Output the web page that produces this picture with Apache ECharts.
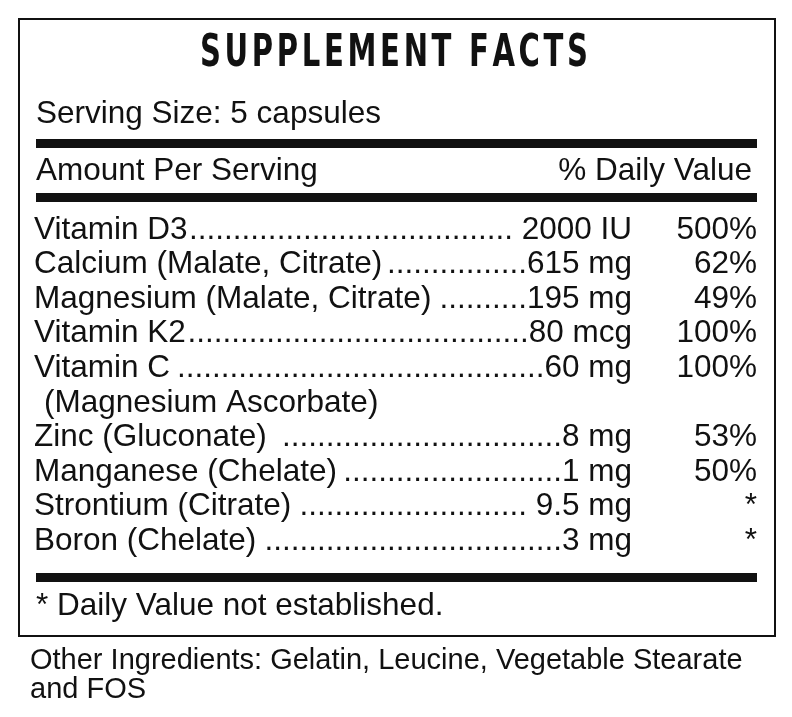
<!DOCTYPE html>
<html><head><meta charset="utf-8">
<script src="https://cdn.jsdelivr.net/npm/echarts@6/dist/echarts.min.js"></script>
<style>html,body{margin:0;background:#fff}#c{width:792px;height:717px}</style>
</head><body><div id="c"></div>
<script>
const title = 'SUPPLEMENT FACTS';
const servingSize = 'Serving Size: 5 capsules';
const names = ['Vitamin D3', 'Calcium (Malate, Citrate)', 'Magnesium (Malate, Citrate)', 'Vitamin K2',
  'Vitamin C', 'Zinc (Gluconate) ', 'Manganese (Chelate)', 'Strontium (Citrate)', 'Boron (Chelate)'];
const subNotes = ['', '', '', '', '(Magnesium Ascorbate)', '', '', '', ''];
const amounts = [' 2000 IU', '615 mg', '195 mg', '80 mcg', '60 mg', '8 mg', '1 mg', ' 9.5 mg', '3 mg'];
const dailyValues = ['500%', '62%', '49%', '100%', '100%', '53%', '50%', '*', '*'];
const footnote = '* Daily Value not established.';
const otherIngredients = ['Other Ingredients: Gelatin, Leucine, Vegetable Stearate', 'and FOS'];

const chart = echarts.init(document.getElementById('c'));
const ctx = document.createElement('canvas').getContext('2d');
const bodyFont = '31.5px "Liberation Sans", Arial';
function w(s, f) { ctx.font = f; return ctx.measureText(s).width; }

const els = [];
const txt = (x, y, s, font, align, sx) => els.push({type: 'text', x, y, scaleX: sx || 1,
  style: {text: s, font, fill: '#111', textAlign: align || 'left', textVerticalAlign: 'middle'}});
const bar = (y, h) => els.push({type: 'rect', shape: {x: 36, y, width: 721, height: h}, style: {fill: '#111'}});

els.push({type: 'rect', shape: {x: 19, y: 19, width: 756, height: 617}, style: {fill: 'none', stroke: '#111', lineWidth: 2}});

// title, spaced letters, squeezed to the label width
const tFont = 'bold 44px "DejaVu Sans Condensed"';
const spacing = 5;
let tw = 0; for (const ch of title) tw += w(ch, tFont) + spacing; tw -= spacing;
const sx = 388 / tw;
let tx = 200;
for (const ch of title) { txt(tx, 55, ch, tFont, 'left', sx); tx += (w(ch, tFont) + spacing) * sx; }

txt(36, 114, servingSize, bodyFont);
bar(139, 9);
txt(36, 171, 'Amount Per Serving', bodyFont);
txt(752, 171, '% Daily Value', bodyFont, 'right');
bar(193, 9);

const amtRight = 632, dvRight = 757;
let y = 230;
names.forEach((n, i) => {
  const start = 34 + w(n, bodyFont);
  const end = amtRight - w(amounts[i], bodyFont);
  let dots = '';
  while (w(dots + '.', bodyFont) <= end - start) dots += '.';
  txt(34, y, n, bodyFont);
  txt(end - w(dots, bodyFont), y, dots, bodyFont);
  txt(amtRight, y, amounts[i], bodyFont, 'right');
  txt(dvRight, y, dailyValues[i], bodyFont, 'right');
  y += 34.6;
  if (subNotes[i]) { txt(44, y, subNotes[i], bodyFont); y += 34.6; }
});

bar(573, 9);
txt(36, 606, footnote, bodyFont);
const oFont = '29px "Liberation Sans", Arial';
txt(30, 661, otherIngredients[0], oFont);
txt(30, 690, otherIngredients[1], oFont);

chart.setOption({animation: false, graphic: {elements: els}});
</script></body></html>
